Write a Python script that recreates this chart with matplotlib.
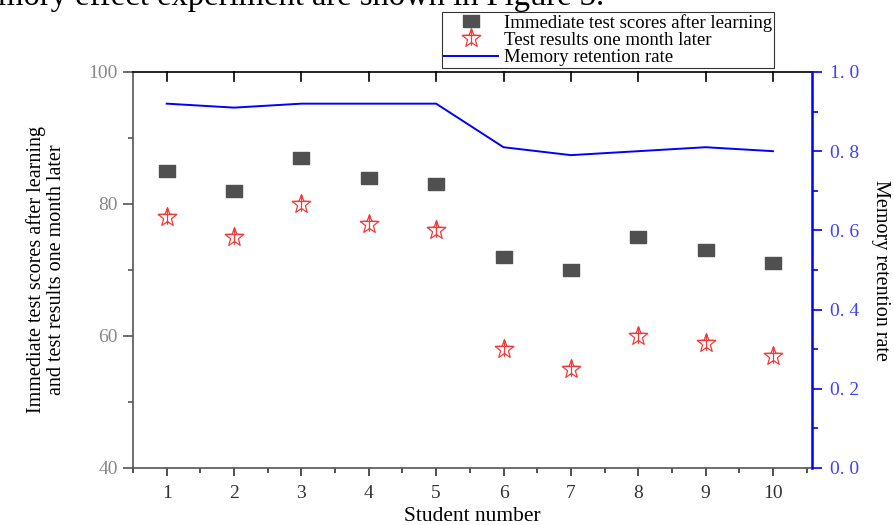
import matplotlib.pyplot as plt
import numpy as np
from matplotlib.path import Path
from matplotlib.ticker import MultipleLocator

students = [1, 2, 3, 4, 5, 6, 7, 8, 9, 10]
immediate = [85, 82, 87, 84, 83, 72, 70, 75, 73, 71]
month_later = [78, 75, 80, 77, 76, 58, 55, 60, 59, 57]
retention = [0.92, 0.91, 0.92, 0.92, 0.92, 0.81, 0.79, 0.80, 0.81, 0.80]

serif = ['Liberation Serif', 'DejaVu Serif']
plt.rcParams['font.family'] = serif

# wide rectangle marker
rect = [(-1, -0.7), (1, -0.7), (1, 0.7), (-1, 0.7), (-1, -0.7)]

# open star with a cross inside
ang = np.pi / 2 + np.arange(10) * np.pi / 5
rad = np.where(np.arange(10) % 2 == 0, 1.0, 0.42)
sv = list(zip(rad * np.cos(ang), rad * np.sin(ang)))
verts = sv + [sv[0], (0, 1), (0, -0.75), (sv[2][0], sv[2][1]), (sv[8][0], sv[8][1])]
codes = [Path.MOVETO] + [Path.LINETO] * 9 + [Path.CLOSEPOLY,
         Path.MOVETO, Path.LINETO, Path.MOVETO, Path.LINETO]
star = Path(verts, codes)

fig = plt.figure(figsize=(8.94, 5.25), dpi=100)
ax = fig.add_axes([0.1488, 0.1086, 0.7595, 0.7543])
ax2 = ax.twinx()

h1, = ax.plot(students, immediate, ls='none', marker=rect, ms=12, color='#505050',
              label='Immediate test scores after learning')
h2, = ax.plot(students, month_later, ls='none', marker=star, ms=14, mfc='none',
              mec='#f03c3c', mew=0.9, label='Test results one month later')
h3, = ax2.plot(students, retention, color='#0000ff', lw=1.4, label='Memory retention rate')

ax.set_xlim(0.5, 10.58)
ax.set_ylim(40, 100)
ax2.set_ylim(0, 1.0)

ax.set_xticks(students)
ax.xaxis.set_minor_locator(MultipleLocator(0.5))
ax.yaxis.set_major_locator(MultipleLocator(20))
ax.yaxis.set_minor_locator(MultipleLocator(10))
ax2.yaxis.set_minor_locator(MultipleLocator(0.1))
ax2.set_yticks([0, 0.2, 0.4, 0.6, 0.8, 1.0])
ax2.set_yticklabels(['0. 0', '0. 2', '0. 4', '0. 6', '0. 8', '1. 0'])

ax.tick_params(axis='x', which='both', direction='out', top=False, colors='#333333',
               labelsize=14, length=6, width=1.2, pad=6)
ax.tick_params(axis='x', which='minor', length=3.5)
ax.tick_params(axis='y', which='both', direction='out', colors='#555555',
               labelcolor='#888888', labelsize=14, length=7, width=1.2, pad=4)
ax.tick_params(axis='y', which='minor', length=3.5)
ax2.tick_params(axis='y', which='both', direction='out', colors='#0000ff',
                labelcolor='#4040ff', labelsize=14, length=7, width=1.2, pad=6)
ax2.tick_params(axis='y', which='minor', length=4)

# inward ticks on top spine
for xv in students:
    ax.plot([xv, xv], [100, 98.7], color='black', lw=1.2, clip_on=False)

ax.spines['left'].set_color('#555555')
ax.spines['bottom'].set_color('#555555')
ax.spines['top'].set_color('black')
for s in ['left', 'bottom', 'top']:
    ax.spines[s].set_linewidth(1.2)
ax2.spines['right'].set_color('#0000ff')
ax2.spines['right'].set_linewidth(1.8)
ax2.spines['left'].set_visible(False)
ax2.spines['top'].set_visible(False)
ax2.spines['bottom'].set_visible(False)

ax.set_xlabel('Student number', fontsize=15.5, labelpad=4)
ax.set_ylabel('Immediate test scores after learning\nand test results one month later',
              fontsize=14.5, labelpad=16, linespacing=1.1)
ax2.set_ylabel('Memory retention rate', fontsize=14.5, rotation=270, labelpad=22)

leg = fig.legend(handles=[h1, h2, h3], loc='lower left',
                 bbox_to_anchor=(442 / 894, 1 - 68 / 525), fontsize=13.5,
                 frameon=True, fancybox=False, edgecolor='black',
                 borderpad=0.1, labelspacing=0.0, handlelength=2.9,
                 handletextpad=0.3, borderaxespad=0)
leg.get_frame().set_linewidth(0.8)

fig.text(-0.002, 1.007, 'mory effect experiment are shown in Figure 3.', fontsize=23.5,
         va='center', ha='left')

fig.savefig('out.png', dpi=100)
